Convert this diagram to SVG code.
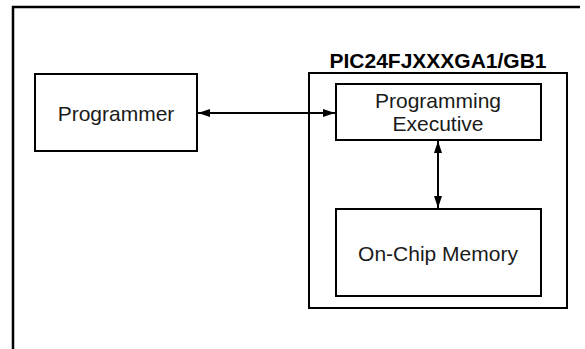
<svg xmlns="http://www.w3.org/2000/svg" width="585" height="349" viewBox="0 0 585 349">
<style>
.box{fill:#fff;stroke:#000;stroke-width:2}
.frame{fill:none;stroke:#000;stroke-width:2.5}
.lbl{font-family:"Liberation Sans",Arial,sans-serif;font-size:21px;fill:#1a1a1a;text-anchor:middle}
.title{font-family:"Liberation Sans",Arial,sans-serif;font-size:21px;font-weight:bold;fill:#000;text-anchor:middle}
.conn{stroke:#000;stroke-width:2;fill:none;marker-start:url(#ah);marker-end:url(#ah)}
</style>
<defs>
<marker id="ah" viewBox="0 0 12 8" refX="12" refY="4" markerWidth="12" markerHeight="8" markerUnits="userSpaceOnUse" orient="auto-start-reverse">
<path d="M0,0 L12,4 L0,8 Z" fill="#000"/>
</marker>
</defs>
<rect width="585" height="349" fill="#fff"/>
<path class="frame" d="M13,349 V7 H580"/>
<g id="programmer">
<rect class="box" x="35" y="74" width="162" height="77"/>
<text class="lbl" x="116" y="121">Programmer</text>
</g>
<g id="chip">
<rect class="box" x="309" y="73" width="258" height="235"/>
<text class="title" x="438" y="68">PIC24FJXXXGA1/GB1</text>
</g>
<g id="prog-exec">
<rect class="box" x="336" y="84" width="205" height="56"/>
<text class="lbl" x="438" y="108">Programming</text>
<text class="lbl" x="438" y="131">Executive</text>
</g>
<g id="memory">
<rect class="box" x="336" y="209" width="205" height="87"/>
<text class="lbl" x="438" y="261">On-Chip Memory</text>
</g>
<g id="connectors">
<line class="conn" x1="198" y1="113" x2="335" y2="113"/>
<line class="conn" x1="438" y1="141" x2="438" y2="208"/>
</g>
</svg>
